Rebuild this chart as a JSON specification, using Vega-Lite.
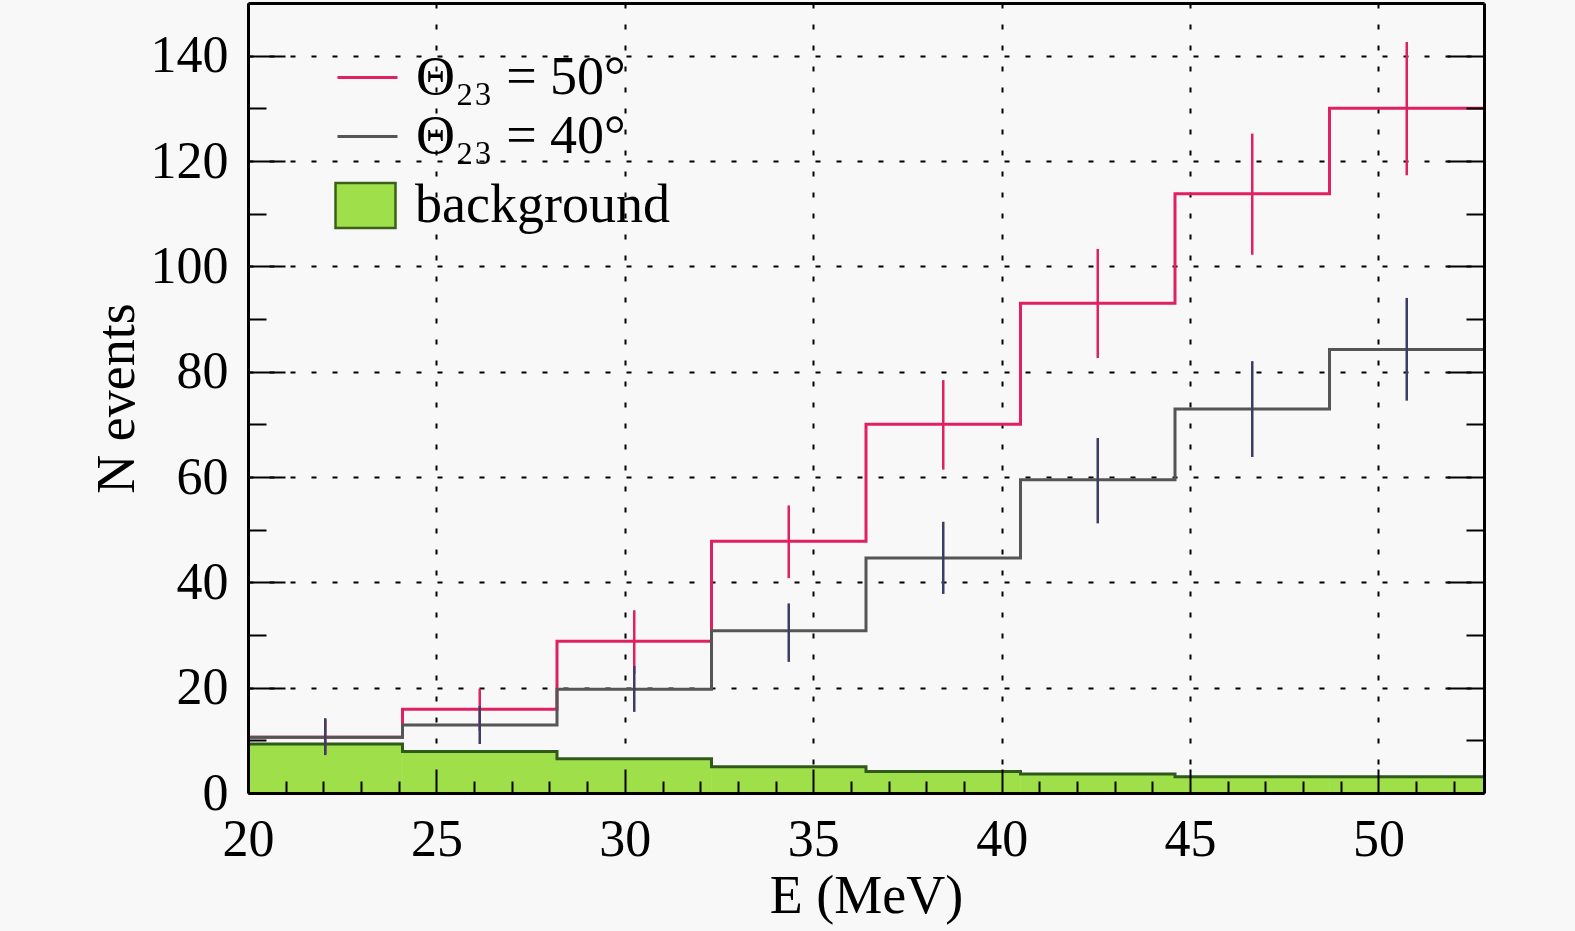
{
  "$schema": "https://vega.github.io/schema/vega-lite/v6.json",
  "background": "#f8f8f8",
  "autosize": "none",
  "width": 1236,
  "height": 790,
  "padding": {"left": 248, "top": 3, "right": 91, "bottom": 138},
  "datasets": {
    "hist": [
      {"theta": 50, "series": "Θ₂₃ = 50°", "lo": 20, "hi": 24.1, "mid": 22.05, "n": 10.6, "elo": 7.4, "ehi": 14.0},
      {"theta": 50, "series": "Θ₂₃ = 50°", "lo": 24.1, "hi": 28.2, "mid": 26.15, "n": 15.9, "elo": 11.8, "ehi": 19.8},
      {"theta": 50, "series": "Θ₂₃ = 50°", "lo": 28.2, "hi": 32.3, "mid": 30.25, "n": 28.8, "elo": 22.6, "ehi": 34.7},
      {"theta": 50, "series": "Θ₂₃ = 50°", "lo": 32.3, "hi": 36.4, "mid": 34.35, "n": 47.8, "elo": 40.8, "ehi": 54.6},
      {"theta": 50, "series": "Θ₂₃ = 50°", "lo": 36.4, "hi": 40.5, "mid": 38.45, "n": 70.0, "elo": 61.4, "ehi": 78.4},
      {"theta": 50, "series": "Θ₂₃ = 50°", "lo": 40.5, "hi": 44.6, "mid": 42.55, "n": 93.0, "elo": 82.6, "ehi": 103.3},
      {"theta": 50, "series": "Θ₂₃ = 50°", "lo": 44.6, "hi": 48.7, "mid": 46.65, "n": 113.8, "elo": 102.2, "ehi": 125.2},
      {"theta": 50, "series": "Θ₂₃ = 50°", "lo": 48.7, "hi": 52.8, "mid": 50.75, "n": 130.0, "elo": 117.3, "ehi": 142.6},
      {"theta": 40, "series": "Θ₂₃ = 40°", "lo": 20, "hi": 24.1, "mid": 22.05, "n": 10.6, "elo": 7.2, "ehi": 14.2},
      {"theta": 40, "series": "Θ₂₃ = 40°", "lo": 24.1, "hi": 28.2, "mid": 26.15, "n": 12.9, "elo": 9.3, "ehi": 16.5},
      {"theta": 40, "series": "Θ₂₃ = 40°", "lo": 28.2, "hi": 32.3, "mid": 30.25, "n": 19.7, "elo": 15.4, "ehi": 24.1},
      {"theta": 40, "series": "Θ₂₃ = 40°", "lo": 32.3, "hi": 36.4, "mid": 34.35, "n": 30.8, "elo": 24.9, "ehi": 36.0},
      {"theta": 40, "series": "Θ₂₃ = 40°", "lo": 36.4, "hi": 40.5, "mid": 38.45, "n": 44.6, "elo": 37.8, "ehi": 51.5},
      {"theta": 40, "series": "Θ₂₃ = 40°", "lo": 40.5, "hi": 44.6, "mid": 42.55, "n": 59.5, "elo": 51.2, "ehi": 67.4},
      {"theta": 40, "series": "Θ₂₃ = 40°", "lo": 44.6, "hi": 48.7, "mid": 46.65, "n": 72.9, "elo": 63.8, "ehi": 82.0},
      {"theta": 40, "series": "Θ₂₃ = 40°", "lo": 48.7, "hi": 52.8, "mid": 50.75, "n": 84.2, "elo": 74.5, "ehi": 94.0}
    ],
    "bg": [
      {"comp": "background", "lo": 20, "hi": 24.1, "n": 9.3},
      {"comp": "background", "lo": 24.1, "hi": 28.2, "n": 7.9},
      {"comp": "background", "lo": 28.2, "hi": 32.3, "n": 6.5},
      {"comp": "background", "lo": 32.3, "hi": 36.4, "n": 5.0},
      {"comp": "background", "lo": 36.4, "hi": 40.5, "n": 4.1},
      {"comp": "background", "lo": 40.5, "hi": 44.6, "n": 3.6},
      {"comp": "background", "lo": 44.6, "hi": 48.7, "n": 3.1},
      {"comp": "background", "lo": 48.7, "hi": 52.8, "n": 3.1}
    ]
  },
  "resolve": {"axis": {"x": "independent", "y": "independent"}},
  "layer": [
    {
      "data": {"name": "bg"},
      "mark": {"type": "rect", "stroke": "#9fe04a", "strokeWidth": 0.5},
      "encoding": {
        "x": {
          "field": "lo", "type": "quantitative",
          "scale": {"domain": [20, 52.8], "nice": false, "zero": false},
          "axis": {
            "orient": "bottom", "title": "E (MeV)", "titleFontSize": 54, "titleFontWeight": "normal", "titlePadding": 4,
            "labelFontSize": 52, "labelPadding": 21, "labelFlush": false, "labelOverlap": false,
            "values": [20, 25, 30, 35, 40, 45, 50],
            "ticks": false, "domain": false,
            "grid": true, "gridColor": "black", "gridDash": [5, 16], "gridWidth": 2, "gridOpacity": 1,
            "zindex": 0
          }
        },
        "x2": {"field": "hi"},
        "y": {
          "field": "n", "type": "quantitative",
          "scale": {"domain": [0, 150], "nice": false},
          "axis": {
            "orient": "left", "title": "N events", "titleFontSize": 54, "titleFontWeight": "normal", "titlePadding": 6,
            "labelFontSize": 52, "labelPadding": 20, "labelFlush": false, "labelOverlap": false,
            "values": [0, 20, 40, 60, 80, 100, 120, 140],
            "ticks": false, "domain": false,
            "grid": true, "gridColor": "black", "gridDash": [5, 16], "gridWidth": 2, "gridOpacity": 1,
            "zindex": 0
          }
        },
        "y2": {"datum": 0},
        "fill": {
          "field": "comp", "type": "nominal",
          "scale": {"domain": ["background"], "range": ["#9fe04a"]},
          "legend": {
            "orient": "none", "legendX": 86, "legendY": 171, "padding": 0, "title": null,
            "symbolType": "M-1,-0.75H1V0.75H-1Z", "symbolSize": 3600,
            "symbolStrokeColor": "#3d5f1c", "symbolStrokeWidth": 2.5,
            "labelFontSize": 54, "labelColor": "black", "labelOffset": 18, "labelLimit": 800
          }
        }
      }
    },
    {
      "data": {"name": "bg"},
      "transform": [{"fold": ["lo", "hi"], "as": ["edge", "x"]}],
      "mark": {"type": "line", "color": "#2f5a1c", "strokeWidth": 3},
      "encoding": {
        "x": {
          "field": "x", "type": "quantitative",
          "axis": {
            "orient": "bottom", "title": null, "labels": false, "grid": false,
            "values": [20, 25, 30, 35, 40, 45, 50],
            "domain": true, "domainWidth": 3, "domainColor": "black",
            "ticks": true, "tickSize": -24, "tickWidth": 2, "zindex": 1
          }
        },
        "y": {
          "field": "n", "type": "quantitative",
          "axis": {
            "orient": "left", "title": null, "labels": false, "grid": false,
            "values": [0, 20, 40, 60, 80, 100, 120, 140],
            "domain": true, "domainWidth": 3, "domainColor": "black",
            "ticks": true, "tickSize": -37, "tickWidth": 2, "zindex": 1
          }
        },
        "order": [{"field": "x", "type": "quantitative"}, {"field": "edge", "type": "ordinal"}]
      }
    },
    {
      "data": {"name": "hist"},
      "transform": [{"filter": {"field": "theta", "equal": 50}}, {"fold": ["lo", "hi"], "as": ["edge", "x"]}],
      "mark": {"type": "line", "strokeWidth": 3},
      "encoding": {
        "x": {
          "field": "x", "type": "quantitative",
          "axis": {
            "orient": "bottom", "title": null, "labels": false, "grid": false, "domain": false,
            "values": [21, 22, 23, 24, 26, 27, 28, 29, 31, 32, 33, 34, 36, 37, 38, 39, 41, 42, 43, 44, 46, 47, 48, 49, 51, 52],
            "ticks": true, "tickSize": -12, "tickWidth": 2, "zindex": 1
          }
        },
        "y": {
          "field": "n", "type": "quantitative",
          "axis": {
            "orient": "left", "title": null, "labels": false, "grid": false, "domain": false,
            "values": [10, 30, 50, 70, 90, 110, 130],
            "ticks": true, "tickSize": -18, "tickWidth": 2, "zindex": 1
          }
        },
        "stroke": {
          "field": "series", "type": "nominal",
          "scale": {"domain": ["Θ₂₃ = 50°", "Θ₂₃ = 40°"], "range": ["#e02060", "#555555"]},
          "legend": {
            "orient": "none", "legendX": 88, "legendY": 43, "padding": 0, "title": null,
            "symbolType": "stroke", "symbolSize": 3600, "symbolStrokeWidth": 3, "rowPadding": -4,
            "labelFontSize": 54, "labelColor": "black", "labelOffset": 17, "labelLimit": 800
          }
        },
        "order": [{"field": "x", "type": "quantitative"}, {"field": "edge", "type": "ordinal"}]
      }
    },
    {
      "data": {"name": "hist"},
      "transform": [{"filter": {"field": "theta", "equal": 40}}, {"fold": ["lo", "hi"], "as": ["edge", "x"]}],
      "mark": {"type": "line", "strokeWidth": 3},
      "encoding": {
        "x": {
          "field": "x", "type": "quantitative",
          "axis": {
            "orient": "top", "title": null, "labels": false, "grid": false, "ticks": false,
            "domain": true, "domainWidth": 3, "domainColor": "black", "zindex": 1
          }
        },
        "y": {
          "field": "n", "type": "quantitative",
          "axis": {
            "orient": "right", "title": null, "labels": false, "grid": false,
            "values": [0, 20, 40, 60, 80, 100, 120, 140],
            "domain": true, "domainWidth": 3, "domainColor": "black",
            "ticks": true, "tickSize": -37, "tickWidth": 2, "zindex": 1
          }
        },
        "stroke": {"field": "series", "type": "nominal"},
        "order": [{"field": "x", "type": "quantitative"}, {"field": "edge", "type": "ordinal"}]
      }
    },
    {
      "data": {"name": "hist"},
      "mark": {"type": "rule", "strokeWidth": 2.5},
      "encoding": {
        "x": {"field": "mid", "type": "quantitative", "axis": null},
        "y": {
          "field": "elo", "type": "quantitative",
          "axis": {
            "orient": "right", "title": null, "labels": false, "grid": false, "domain": false,
            "values": [10, 30, 50, 70, 90, 110, 130],
            "ticks": true, "tickSize": -18, "tickWidth": 2, "zindex": 1
          }
        },
        "y2": {"field": "ehi"},
        "color": {
          "field": "series", "type": "nominal",
          "scale": {"domain": ["Θ₂₃ = 50°", "Θ₂₃ = 40°"], "range": ["#e02060", "#3c3c66"]},
          "legend": null
        }
      }
    }
  ],
  "config": {
    "view": {"stroke": null},
    "axis": {
      "labelFont": "Liberation Serif", "titleFont": "Liberation Serif",
      "labelColor": "black", "titleColor": "black", "tickColor": "black"
    },
    "legend": {"labelFont": "Liberation Serif, DejaVu Serif"}
  }
}
